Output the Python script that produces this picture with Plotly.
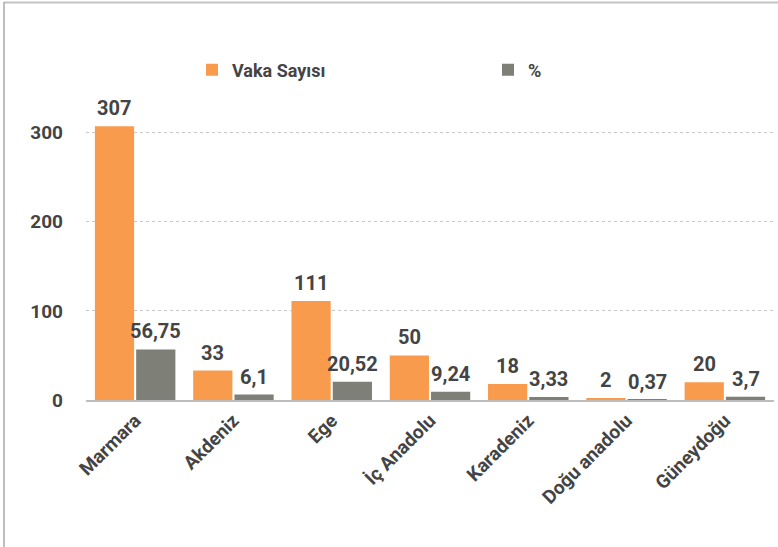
import plotly.graph_objects as go

categories = ["Marmara", "Akdeniz", "Ege", "İç Anadolu", "Karadeniz", "Doğu anadolu", "Güneydoğu"]
vaka_sayisi = [307, 33, 111, 50, 18, 2, 20]
yuzde = [56.75, 6.1, 20.52, 9.24, 3.33, 0.37, 3.7]
yuzde_labels = ["56,75", "6,1", "20,52", "9,24", "3,33", "0,37", "3,7"]
y_ticks = [0, 100, 200, 300]

ORANGE = "#F89B4C"
GRAY = "#7E7F77"
TXT = "#444444"
FONT = "Roboto"

W, H = 778, 547
ML, MR, MT, MB = 86, 4, 88, 147
PW, PH = W - ML - MR, H - MT - MB
BARGAP, GROUPGAP = 0.16, 0.05

fig = go.Figure()
fig.add_trace(go.Bar(x=categories, y=vaka_sayisi, name="Vaka Sayısı",
                     marker=dict(color=ORANGE, line=dict(width=0))))
fig.add_trace(go.Bar(x=categories, y=yuzde, name="%",
                     marker=dict(color=GRAY, line=dict(width=0))))

# value labels above bars (anchored to data coordinates)
cat_px = PW / len(categories)
slot = cat_px * (1 - BARGAP) / 2
annotations = []
for series, labels, sign in ((vaka_sayisi, [str(v) for v in vaka_sayisi], -1), (yuzde, yuzde_labels, 1)):
    for c, v, lab in zip(categories, series, labels):
        annotations.append(dict(x=c, y=v, xref="x", yref="y", text=lab, showarrow=False,
                                xanchor="center", yanchor="bottom", xshift=sign * slot / 2,
                                yshift=4,
                                font=dict(family=FONT, size=20, color=TXT, weight="bold")))


def px2x(px):
    return (px - ML) / PW


def py2y(py):
    return (H - MB - py) / PH


fig.update_layout(
    width=W, height=H,
    margin=dict(l=ML, r=MR, t=MT, b=MB, pad=0, autoexpand=False),
    paper_bgcolor="white", plot_bgcolor="white",
    separators=",.",
    barmode="group", bargap=BARGAP, bargroupgap=GROUPGAP,
    font=dict(family=FONT, color=TXT, weight="bold"),
    showlegend=True,
    legend=dict(orientation="h", x=px2x(192), y=py2y(70), yanchor="middle", xanchor="left",
                entrywidth=251, entrywidthmode="pixels",
                font=dict(family=FONT, size=18, color=TXT, weight="bold"),
                bgcolor="rgba(0,0,0,0)", itemclick=False),
    xaxis=dict(tickangle=-45, tickfont=dict(family=FONT, size=19, color=TXT, weight="bold"),
               showline=True, linecolor="#bdbdbd", linewidth=2, ticks="", showgrid=False,
               automargin=False),
    yaxis=dict(range=[0, 350], tickvals=y_ticks, showgrid=True, gridcolor="#c8c8c8",
               griddash="dot", gridwidth=1, zeroline=False, showline=False, ticks="",
               ticklabelstandoff=22,
               tickfont=dict(family=FONT, size=19, color=TXT, weight="bold"),
               automargin=False),
    annotations=annotations,
    shapes=[
        dict(type="line", xref="paper", yref="paper", x0=px2x(4), x1=px2x(778),
             y0=py2y(2.5), y1=py2y(2.5), line=dict(color="#c4c4c4", width=2)),
        dict(type="line", xref="paper", yref="paper", x0=px2x(4), x1=px2x(4),
             y0=py2y(2), y1=py2y(547), line=dict(color="#a8a8a8", width=1.5)),
    ],
)

fig.write_html("out.html", config={"displayModeBar": False},
               post_script="document.body.style.margin='0';")
